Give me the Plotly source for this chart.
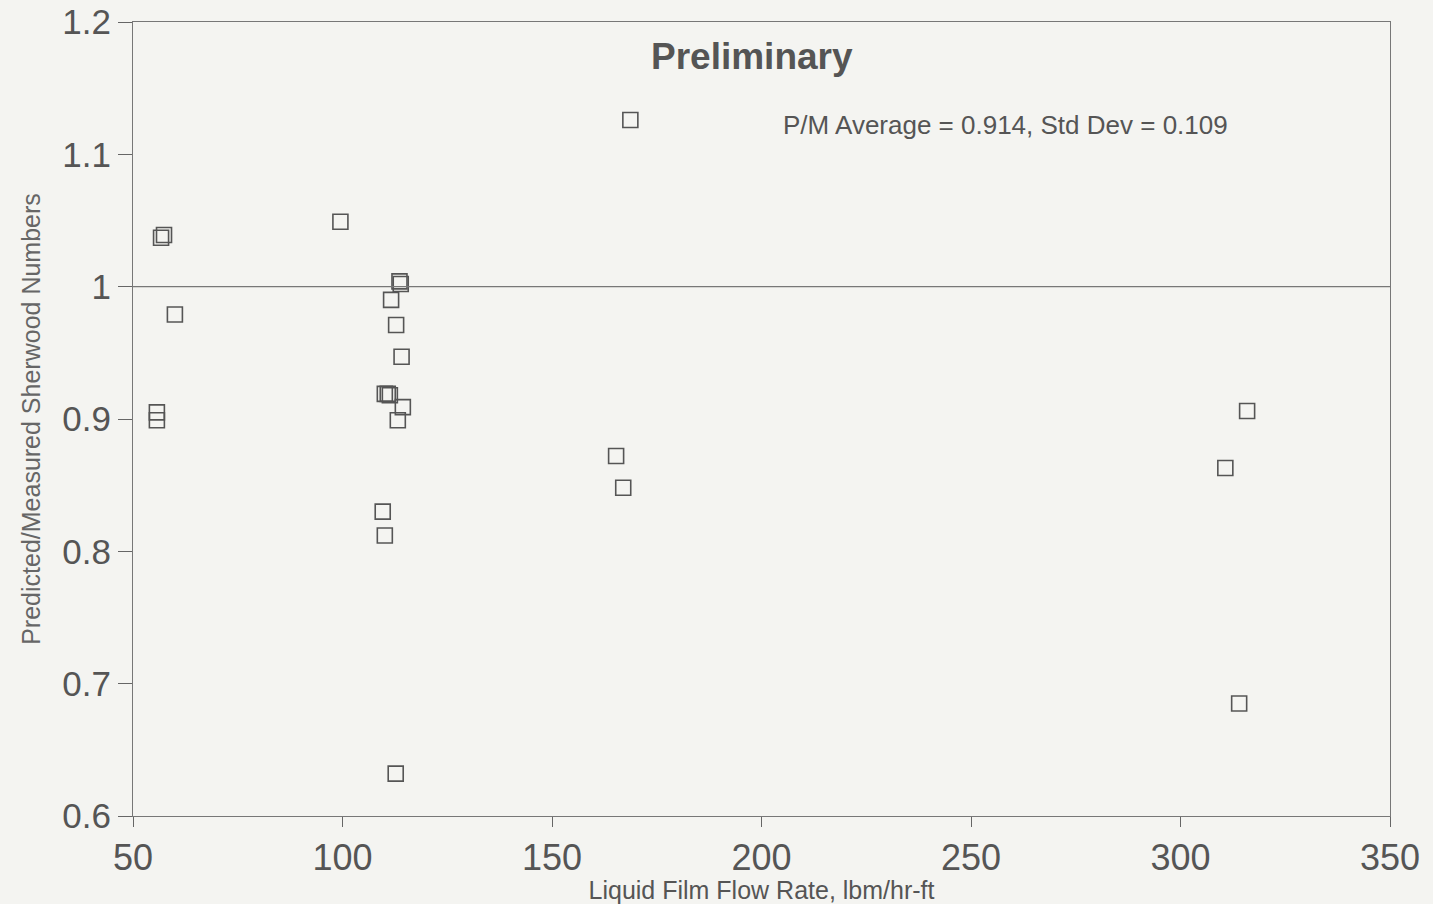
import plotly.graph_objects as go

# Liquid film flow rate (lbm/hr-ft) and predicted/measured Sherwood number ratio
flow_rate = [56.7, 57.4, 60.0, 55.7, 55.7, 99.5,
             113.6, 113.9, 111.6, 112.8, 114.1, 110.1, 110.8, 111.3,
             114.4, 113.2, 109.6, 110.1, 112.7,
             168.7, 165.3, 167.0,
             310.7, 315.9, 314.0]
pm_ratio = [1.037, 1.039, 0.979, 0.905, 0.899, 1.049,
            1.004, 1.002, 0.990, 0.971, 0.947, 0.919, 0.919, 0.918,
            0.909, 0.899, 0.830, 0.812, 0.632,
            1.126, 0.872, 0.848,
            0.863, 0.906, 0.685]

x_ticks = [50, 100, 150, 200, 250, 300, 350]
y_ticks = [0.6, 0.7, 0.8, 0.9, 1.0, 1.1, 1.2]
y_tick_text = ["0.6", "0.7", "0.8", "0.9", "1", "1.1", "1.2"]

title_text = "Preliminary"
stats_text = "P/M Average = 0.914, Std Dev = 0.109"

paper = "#f4f4f1"

fig = go.Figure()
fig.add_trace(go.Scatter(
    x=flow_rate, y=pm_ratio, mode="markers",
    marker=dict(symbol="square-open", size=15, color="#555555",
                line=dict(width=1.6, color="#555555")),
    showlegend=False, hoverinfo="x+y"))

fig.add_shape(type="line", xref="x", yref="y", x0=50, x1=350, y0=1.0, y1=1.0,
              line=dict(color="#777777", width=1.2))

fig.update_layout(
    width=1433, height=904,
    margin=dict(l=133, r=43, t=22, b=88),
    paper_bgcolor=paper, plot_bgcolor=paper,
    font=dict(family="Liberation Sans, Arial, sans-serif", color="#505050"),
    annotations=[
        dict(text="<b>" + title_text + "</b>", xref="paper", yref="paper",
             x=0.4925, y=0.957, showarrow=False, font=dict(size=37, color="#555555"),
             xanchor="center", yanchor="middle"),
        dict(text=stats_text, xref="paper", yref="paper",
             x=0.694, y=0.870, showarrow=False, font=dict(size=26, color="#555555"),
             xanchor="center", yanchor="middle"),
    ],
)

fig.update_xaxes(
    range=[50, 350], tickvals=x_ticks, ticks="outside", ticklen=10, tickcolor="#666666",
    showgrid=False, zeroline=False, showline=True, linecolor="#777777", linewidth=1.2,
    mirror=True, tickfont=dict(size=36, color="#555555"), automargin=False,
    title=dict(text="Liquid Film Flow Rate, lbm/hr-ft", font=dict(size=25, color="#555555"),
               standoff=2),
)
fig.update_yaxes(
    range=[0.6, 1.2], tickvals=y_ticks, ticktext=y_tick_text, ticks="outside", ticklen=14,
    tickcolor="#666666", showgrid=False, zeroline=False, showline=True,
    linecolor="#777777", linewidth=1.2, mirror=True, automargin=False,
    tickfont=dict(size=35, color="#555555"),
    title=dict(text="Predicted/Measured Sherwood Numbers", font=dict(size=25, color="#666666"),
               standoff=14),
)

fig.write_html("out.html")
